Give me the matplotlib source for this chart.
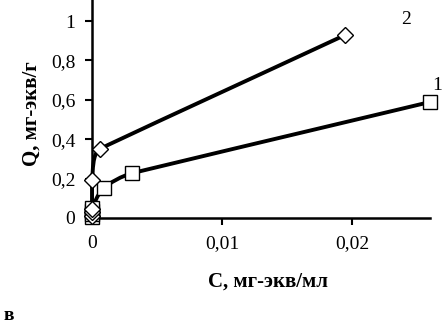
import matplotlib
matplotlib.use("Agg")
from matplotlib import pyplot as plt
from matplotlib.path import Path
from matplotlib.patches import PathPatch
from matplotlib.ticker import FuncFormatter
import numpy as np

plt.rcParams['font.family'] = ['Liberation Serif', 'DejaVu Serif']

# series 1 (squares)
c1 = [0.0, 0.0, 0.0, 0.0, 0.0009, 0.0031, 0.026]
q1 = [0.005, 0.02, 0.035, 0.05, 0.152, 0.228, 0.589]
# series 2 (diamonds)
c2 = [0.0, 0.0, 0.0, 0.0, 0.0006, 0.01946]
q2 = [0.01, 0.03, 0.045, 0.193, 0.35, 0.929]

x_ticks = [0, 0.01, 0.02]
y_ticks = [0, 0.2, 0.4, 0.6, 0.8, 1.0]


def smooth_path(ax, xs, ys):
    # smoothed line built in screen space: tangent from neighbours,
    # handle length limited by the shorter neighbouring segment
    tr = ax.transData
    p = tr.transform(np.column_stack([xs, ys]))
    n = len(p)
    seg = [np.hypot(*(p[i + 1] - p[i])) for i in range(n - 1)]
    d = []
    for i in range(n):
        v = p[min(i + 1, n - 1)] - p[max(i - 1, 0)]
        d.append(v / (np.hypot(*v) or 1.0))
    xmin = p[:, 0].min()
    verts = [p[0]]
    codes = [Path.MOVETO]
    for i in range(n - 1):
        l1 = min(seg[i], seg[i - 1] if i > 0 else seg[i]) / 3
        l2 = min(seg[i], seg[i + 1] if i + 1 < n - 1 else seg[i]) / 3
        b1 = p[i] + d[i] * l1
        b2 = p[i + 1] - d[i + 1] * l2
        b1[0] = max(b1[0], xmin)
        b2[0] = max(b2[0], xmin)
        verts += [b1, b2, p[i + 1]]
        codes += [Path.CURVE4] * 3
    verts = tr.inverted().transform(np.array(verts))
    return Path(verts, codes)


fig = plt.figure(figsize=(4.43, 3.22), dpi=100)
ax = fig.add_axes([0.2077, 0.323, 0.9707 - 0.2077, 0.677])
ax.set_xlim(0, 0.026)
ax.set_ylim(0, 1.107)

for xs, ys in [(c1, q1), (c2, q2)]:
    ax.add_patch(PathPatch(smooth_path(ax, xs, ys), facecolor='none',
                           edgecolor='black', lw=2.8, clip_on=False, zorder=2))

ax.plot(c1, q1, 's', ms=10, mfc='white', mec='black', mew=1.0,
        clip_on=False, zorder=3)
ax.plot(c2, q2, 'D', ms=8, mfc='white', mec='black', mew=1.0,
        clip_on=False, zorder=3)

ax.set_xticks(x_ticks)
ax.set_yticks(y_ticks)
fmt = FuncFormatter(lambda v, p: ('%g' % round(v, 4)).replace('.', ','))
ax.xaxis.set_major_formatter(fmt)
ax.yaxis.set_major_formatter(fmt)
ax.tick_params(direction='out', length=5, width=1.5, labelsize=14, pad=7)

for s in ['top', 'right']:
    ax.spines[s].set_visible(False)
for s in ['left', 'bottom']:
    ax.spines[s].set_linewidth(1.8)

ax.set_xlabel('C, мг-экв/мл', fontsize=15, fontweight='bold')
ax.set_ylabel('Q, мг-экв/г', fontsize=15, fontweight='bold')
ax.xaxis.set_label_coords(0.52, -0.245)
ax.yaxis.set_label_coords(-0.148, 0.48)

fig.text(437 / 443, 1 - 85 / 322, '1', fontsize=14, ha='center', va='center')
fig.text(406 / 443, 1 - 19 / 322, '2', fontsize=14, ha='center', va='center')
fig.text(9 / 443, 1 - 315 / 322, 'в', fontsize=14, fontweight='bold',
         ha='center', va='center')

fig.savefig('out.png', dpi=100)
